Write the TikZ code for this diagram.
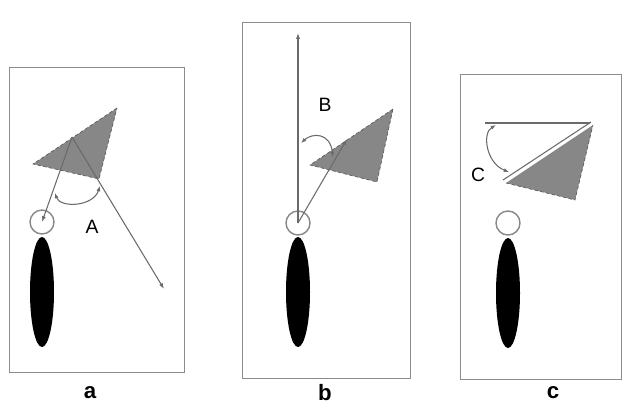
\documentclass[tikz,border=0pt]{standalone}
\usepackage{fontspec}
\setmainfont{Liberation Sans}
\usetikzlibrary{arrows.meta, shapes.geometric}
\definecolor{linegray}{HTML}{6A6A6A}
\definecolor{framegray}{HTML}{8C8C8C}
\definecolor{targetgray}{HTML}{878787}
\definecolor{edgegray}{HTML}{555555}

\begin{document}
\begin{tikzpicture}[x=0.03cm, y=-0.03cm,
    frame/.style={draw=framegray, line width=0.8pt},
    head/.style={circle, draw=linegray!80, line width=1.2pt, fill=white, minimum size=0.72cm, inner sep=0pt},
    body/.style={ellipse, fill=black, minimum width=0.72cm, minimum height=3.3cm, inner sep=0pt},
    target/.style={fill=targetgray},
    rim/.style={draw=edgegray, densely dashed, line width=0.5pt},
    ray/.style={-{Latex[length=5pt,width=3.5pt]}, linegray, line width=0.9pt},
    angle/.style={{Latex[length=4.5pt,width=3.5pt]}-{Latex[length=4.5pt,width=3.5pt]}, linegray, line width=0.9pt},
    tag/.style={font=\fontsize{16.5}{16.5}\selectfont},
    caption/.style={font=\fontsize{19}{19}\selectfont\bfseries}
  ]
    \useasboundingbox (0,0) rectangle (623,408);

    % panel a
    \draw[frame] (9,67) rectangle (184,372);
    \fill[target] (117,108) -- (33,164) -- (99,179) -- cycle;
    \draw[rim] (117,108) -- (33,164) -- (99,179) -- cycle;
    \node[body] (bodyA) at (42,292) {};
    \node[head] (headA) at (42,222) {};
    \coordinate (apexA) at (72,137);
    \coordinate (farA) at (164,289);
    \draw[ray] (apexA) -- (headA.center);
    \draw[ray] (apexA) -- (farA);
    \coordinate (armA1) at (55,193);
    \coordinate (armA2) at (100,186);
    \draw[angle] (armA1) .. controls (60,208) and (93,207) .. (armA2);
    \node[tag] (labA) at (92,227) {A};

    % panel b
    \draw[frame] (242,22) rectangle (410,378);
    \fill[target] (393,109) -- (310,165) -- (377,182) -- cycle;
    \draw[rim] (393,109) -- (310,165) -- (377,182) -- cycle;
    \node[body] (bodyB) at (298,292) {};
    \node[head] (headB) at (298,223) {};
    \coordinate (upB) at (298,33);
    \coordinate (tipB) at (347,139);
    \draw[ray] (headB.center) -- (upB);
    \draw[ray] (headB.center) -- (tipB);
    \coordinate (armB1) at (301,143);
    \coordinate (armB2) at (333,157);
    \draw[angle] (armB1) .. controls (312,133) and (330,132) .. (armB2);
    \node[tag] (labB) at (325,105) {B};

    % panel c
    \draw[frame] (460,74) rectangle (621,379);
    \fill[target] (593,125) -- (506,183) -- (575,200) -- cycle;
    \draw[rim] (506,183) -- (575,200) -- (593,125);
    \draw[linegray, line width=0.9pt] (591,122) -- (503,180);
    \node[body] (bodyC) at (508,293) {};
    \node[head] (headC) at (508,223) {};
    \coordinate (levelC1) at (485,123);
    \coordinate (levelC2) at (590,123);
    \draw[linegray, line width=0.9pt] (levelC1) -- (levelC2);
    \coordinate (armC1) at (496,125);
    \coordinate (armC2) at (509,172);
    \draw[angle] (armC1) .. controls (482,133) and (486,163) .. (armC2);
    \node[tag] (labC) at (478,175) {C};

    % captions
    \node[caption] (capA) at (90,393) {a};
    \node[caption] (capB) at (325,393) {b};
    \node[caption] (capC) at (553,393) {c};
\end{tikzpicture}
\end{document}
